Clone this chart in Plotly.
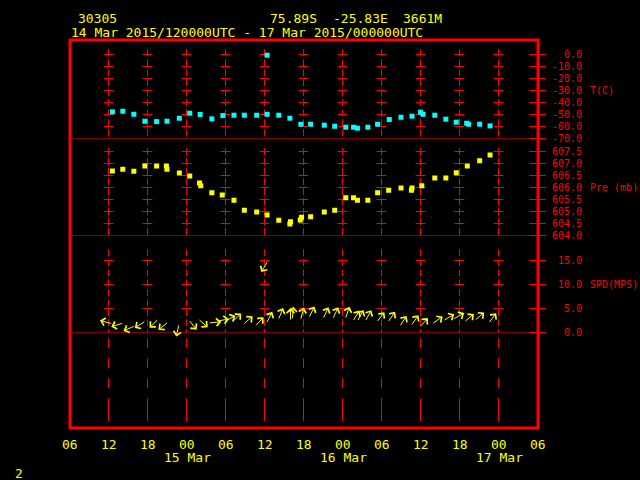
import math
import plotly.graph_objects as go

# ---------------- data ----------------
# hours counted from 14 Mar 2015 00UTC
x_tick_hours = [6, 12, 18, 24, 30, 36, 42, 48, 54, 60, 66, 72, 78]
x_tick_text = ["06", "12", "18", "00", "06", "12", "18", "00", "06", "12", "18", "00", "06"]
date_hours = [24, 48, 72]
date_text = ["15 Mar", "16 Mar", "17 Mar"]
grid_hours = [12, 18, 24, 30, 36, 42, 48, 54, 60, 66, 72]

temp_ticks = [0, -10, -20, -30, -40, -50, -60, -70]
pres_ticks = [607.5, 607.0, 606.5, 606.0, 605.5, 605.0, 604.5, 604.0]
spd_ticks = [15, 10, 5, 0]

temp_hours = [12.6, 14.2, 15.9, 17.6, 19.4, 21.0, 22.9, 24.5, 26.1, 27.9, 29.6, 31.3, 32.9,
              34.8, 36.4, 36.4, 38.2, 39.9, 41.6, 43.1, 45.2, 46.8, 48.5, 49.7, 50.3, 51.9,
              53.4, 55.2, 57.0, 58.7, 60.0, 60.4, 62.2, 63.9, 65.5, 67.1, 67.4, 69.1, 70.7]
temp_vals = [-47.8, -47.3, -49.8, -55.6, -55.9, -55.6, -53.1, -48.9, -50.0, -53.6, -50.9, -50.6,
             -50.6, -50.6, -49.8, -0.6, -50.6, -53.1, -58.1, -58.1, -58.9, -59.8, -60.6, -60.6,
             -61.4, -60.6, -58.1, -54.2, -52.3, -51.4, -48.1, -49.8, -50.6, -53.9, -56.4, -57.3,
             -58.1, -58.1, -59.5]

pres_hours = [12.6, 14.2, 15.9, 17.6, 19.4, 20.9, 21.0, 22.9, 24.5, 26.0, 26.2, 27.9, 29.5,
              31.3, 32.9, 34.8, 36.4, 38.2, 39.9, 40.0, 41.5, 41.7, 43.1, 45.2, 46.8, 48.5,
              49.7, 50.3, 51.9, 53.4, 55.1, 57.0, 58.6, 58.7, 60.2, 62.2, 63.9, 65.5, 67.2,
              69.1, 70.7]
pres_vals = [606.69, 606.76, 606.68, 606.90, 606.90, 606.90, 606.76, 606.60, 606.48, 606.19,
             606.07, 605.78, 605.69, 605.47, 605.05, 604.98, 604.85, 604.64, 604.48, 604.57,
             604.65, 604.76, 604.78, 604.98, 605.05, 605.57, 605.57, 605.47, 605.47, 605.78,
             605.89, 605.98, 605.89, 605.98, 606.07, 606.40, 606.40, 606.61, 606.90, 607.11,
             607.35]

wind_hours = [12.4, 14.1, 15.9, 17.5, 19.5, 21.0, 22.8, 24.5, 26.0, 27.6, 28.8, 30.0, 31.2,
              32.9, 34.7, 36.4, 36.4, 38.2, 40.0, 40.3, 41.6, 42.9, 45.1, 46.6, 48.5, 49.7,
              50.4, 51.6, 53.4, 55.1, 56.9, 58.7, 60.0, 62.0, 63.7, 65.2, 66.9, 68.5, 70.6]
wind_spd = [1.9, 1.9, 1.3, 2.2, 2.6, 2.0, 1.5, 2.4, 2.6, 2.0, 2.4, 2.4, 2.4,
            1.9, 1.5, 2.2, 14.6, 2.9, 2.7, 3.0, 2.9, 3.3, 3.1, 3.1, 3.1, 2.6,
            2.6, 2.6, 2.4, 2.4, 1.5, 1.7, 1.3, 2.0, 2.6, 2.9, 2.4, 2.7, 2.2]
wind_dir = [284, 253, 245, 238, 225, 231, 192, 142, 131, 84, 80, 62, 46,
            49, 43, 27, 211, 22, 0, 5, 15, 27, 25, 25, 19, 32,
            28, 29, 38, 35, 34, 35, 42, 55, 59, 61, 51, 50, 38]

station = "30305"
location = ["75.89S", "-25.83E", "3661M"]
period = "14 Mar 2015/120000UTC - 17 Mar 2015/000000UTC"
page_no = "2"

# ---------------- style / layout ----------------
RED = "#ff0000"
YEL = "#ffff00"
CYA = "#00ffff"
FONT = "DejaVu Sans Mono"

W, H = 640, 480
ML, MR, MT, MB = 70, 102, 40, 52
PW = W - ML - MR
PH = H - MT - MB
X0, X1 = x_tick_hours[0], x_tick_hours[-1]
HOUR_PX = PW / (X1 - X0)
X_SHIFT = 0.5 / HOUR_PX  # align 1px lines on pixel centres


def py2paper(y):
    return (H - MB - y) / PH


def px2paper(x):
    return (x - ML) / PW


def hour2paper(h):
    return (h - X0) / (X1 - X0)


fig = go.Figure()


def grid_trace(yaxis, y_top, y_bot, dash):
    xs, ys = [], []
    for h in grid_hours:
        xs += [h, h, None]
        ys += [y_top, y_bot, None]
    fig.add_trace(go.Scatter(x=xs, y=ys, mode="lines", yaxis=yaxis, hoverinfo="skip",
                             line=dict(color=RED, width=1, dash=dash), showlegend=False))


def cross_trace(yaxis, levels, hours, size):
    xs, ys = [], []
    for h in hours:
        for v in levels:
            xs.append(h)
            ys.append(v)
    fig.add_trace(go.Scatter(x=xs, y=ys, mode="markers", yaxis=yaxis, hoverinfo="skip",
                             cliponaxis=False, showlegend=False,
                             marker=dict(symbol="line-ew", size=size,
                                         line=dict(color=RED, width=1))))


# temperature panel grid
grid_trace("y", 4.4, -70, "7px,3px")
cross_trace("y", temp_ticks[:-1], grid_hours, 7)
# pressure panel grid
grid_trace("y2", 607.64, 604.0, "7px,3px")
cross_trace("y2", pres_ticks[:-1], grid_hours, 7)
# wind panel grid
grid_trace("y3", 17.35, 0, "7px,3px")
cross_trace("y3", spd_ticks[:-1], grid_hours, 7)
# bottom blank panel dashes and ticks
grid_trace("y4", 0.94, 0.205, "10px,10px")
fig.add_trace(go.Scatter(x=grid_hours, y=[0.146] * len(grid_hours), mode="markers", yaxis="y4",
                         hoverinfo="skip", showlegend=False,
                         marker=dict(symbol="line-ns", size=10, line=dict(color=RED, width=1))))

# right-border crosses
right_h = [X1]
cross_trace("y", temp_ticks, right_h, 12)
cross_trace("y2", pres_ticks, right_h, 12)
cross_trace("y3", spd_ticks, right_h, 12)

# data
fig.add_trace(go.Scatter(x=temp_hours, y=temp_vals, mode="markers", yaxis="y", showlegend=False,
                         cliponaxis=False,
                         marker=dict(symbol="square", size=5, color=CYA, line=dict(width=0))))
fig.add_trace(go.Scatter(x=pres_hours, y=pres_vals, mode="markers", yaxis="y2", showlegend=False,
                         marker=dict(symbol="square", size=5, color=YEL, line=dict(width=0))))

annotations = []
ARROW_LEN = 13
for h, s, d in zip(wind_hours, wind_spd, wind_dir):
    r = math.radians(d)
    annotations.append(dict(
        x=h, y=s, xref="x", yref="y3", text="", showarrow=True,
        ax=ARROW_LEN * math.sin(r), ay=-ARROW_LEN * math.cos(r),
        arrowside="start", startarrowhead=4, startarrowsize=1.5, arrowhead=4,
        arrowwidth=1, arrowcolor=YEL, standoff=0, startstandoff=0))

# right axis labels
label_x = px2paper(583.5)
for ticks, yref in [(temp_ticks, "y"), (pres_ticks, "y2"), (spd_ticks, "y3")]:
    for v in ticks:
        annotations.append(dict(x=label_x, y=v, xref="paper", yref=yref, text=f"{v:.1f}",
                                showarrow=False, xanchor="right", yanchor="middle",
                                font=dict(family=FONT, size=10, color=RED)))
unit_x = px2paper(588)
for txt, v, yref in [("T(C)", -30, "y"), ("Pre (mb)", 606.0, "y2"), ("SPD(MPS)", 10, "y3")]:
    annotations.append(dict(x=unit_x, y=v, xref="paper", yref=yref, text=txt, showarrow=False,
                            xanchor="left", yanchor="middle",
                            font=dict(family=FONT, size=10, color=RED)))

# x tick labels and dates (placed on the time scale, expressed as paper fraction)
for h, t in zip(x_tick_hours, x_tick_text):
    annotations.append(dict(x=hour2paper(h), y=py2paper(444), xref="paper", yref="paper", text=t,
                            showarrow=False, xanchor="center", yanchor="middle", borderpad=0,
                            height=11, valign="middle",
                            font=dict(family=FONT, size=13, color=YEL)))
for h, t in zip(date_hours, date_text):
    annotations.append(dict(x=hour2paper(h), y=py2paper(457.5), xref="paper", yref="paper",
                            text=t, showarrow=False, xanchor="center", yanchor="middle",
                            borderpad=0, height=11, valign="middle",
                            font=dict(family=FONT, size=13, color=YEL)))

# titles (monospace columns: 2 blanks between the location fields)
CHAR_PX = 7.83
title_x = [76, 268, 268 + 8 * CHAR_PX, 268 + 17 * CHAR_PX]
for t, xp in zip([station] + location, title_x):
    annotations.append(dict(x=px2paper(xp), y=py2paper(18.7), xref="paper", yref="paper", text=t,
                            showarrow=False, xanchor="left", yanchor="middle",
                            font=dict(family=FONT, size=13, color=YEL)))
annotations.append(dict(x=px2paper(68.5), y=py2paper(32), xref="paper", yref="paper", text=period,
                        showarrow=False, xanchor="left", yanchor="middle",
                        font=dict(family=FONT, size=13, color=YEL)))
annotations.append(dict(x=px2paper(19), y=py2paper(473), xref="paper", yref="paper",
                        text=page_no, showarrow=False, xanchor="center", yanchor="middle",
                        borderpad=0, font=dict(family=FONT, size=13, color=YEL)))

# shapes: frame and panel dividers
div_x1 = px2paper(545)
shapes = [
    dict(type="rect", xref="paper", yref="paper", x0=0, x1=1, y0=0, y1=1,
         line=dict(color=RED, width=3), layer="above"),
    dict(type="line", xref="paper", yref="y", x0=0, x1=div_x1, y0=temp_ticks[-1],
         y1=temp_ticks[-1], line=dict(color=RED, width=1)),
    dict(type="line", xref="paper", yref="y2", x0=0, x1=div_x1, y0=pres_ticks[-1],
         y1=pres_ticks[-1], line=dict(color=RED, width=1)),
    dict(type="line", xref="paper", yref="y3", x0=0, x1=div_x1, y0=spd_ticks[-1],
         y1=spd_ticks[-1], line=dict(color=RED, width=1)),
]

Y_T, Y_P, Y_S = 138.5, 235.5, 332.5  # pixel rows of panel bottoms
hidden = dict(visible=False, showgrid=False, zeroline=False, fixedrange=True)
fig.update_layout(
    width=W, height=H,
    margin=dict(l=ML, r=MR, t=MT, b=MB),
    paper_bgcolor="black", plot_bgcolor="black",
    showlegend=False,
    xaxis=dict(range=[X0 + X_SHIFT, X1 + X_SHIFT], domain=[0, 1], **hidden),
    yaxis=dict(domain=[py2paper(Y_T), 1], range=[-70, -70 + (Y_T - MT) / 1.2],
               anchor="x", **hidden),
    yaxis2=dict(domain=[py2paper(Y_P), py2paper(Y_T)],
                range=[604.0, 604.0 + (Y_P - Y_T) / 24], anchor="x", **hidden),
    yaxis3=dict(domain=[py2paper(Y_S), py2paper(Y_P)],
                range=[0, (Y_S - Y_P) / 4.8], anchor="x", **hidden),
    yaxis4=dict(domain=[0, py2paper(Y_S)], range=[0, 1], anchor="x", **hidden),
    annotations=annotations,
    shapes=shapes,
)

fig.write_html(
    "out.html",
    config={"displayModeBar": False},
    post_script="document.body.style.margin='0';document.body.style.background='black';"
                "document.body.style.overflow='hidden';",
)
